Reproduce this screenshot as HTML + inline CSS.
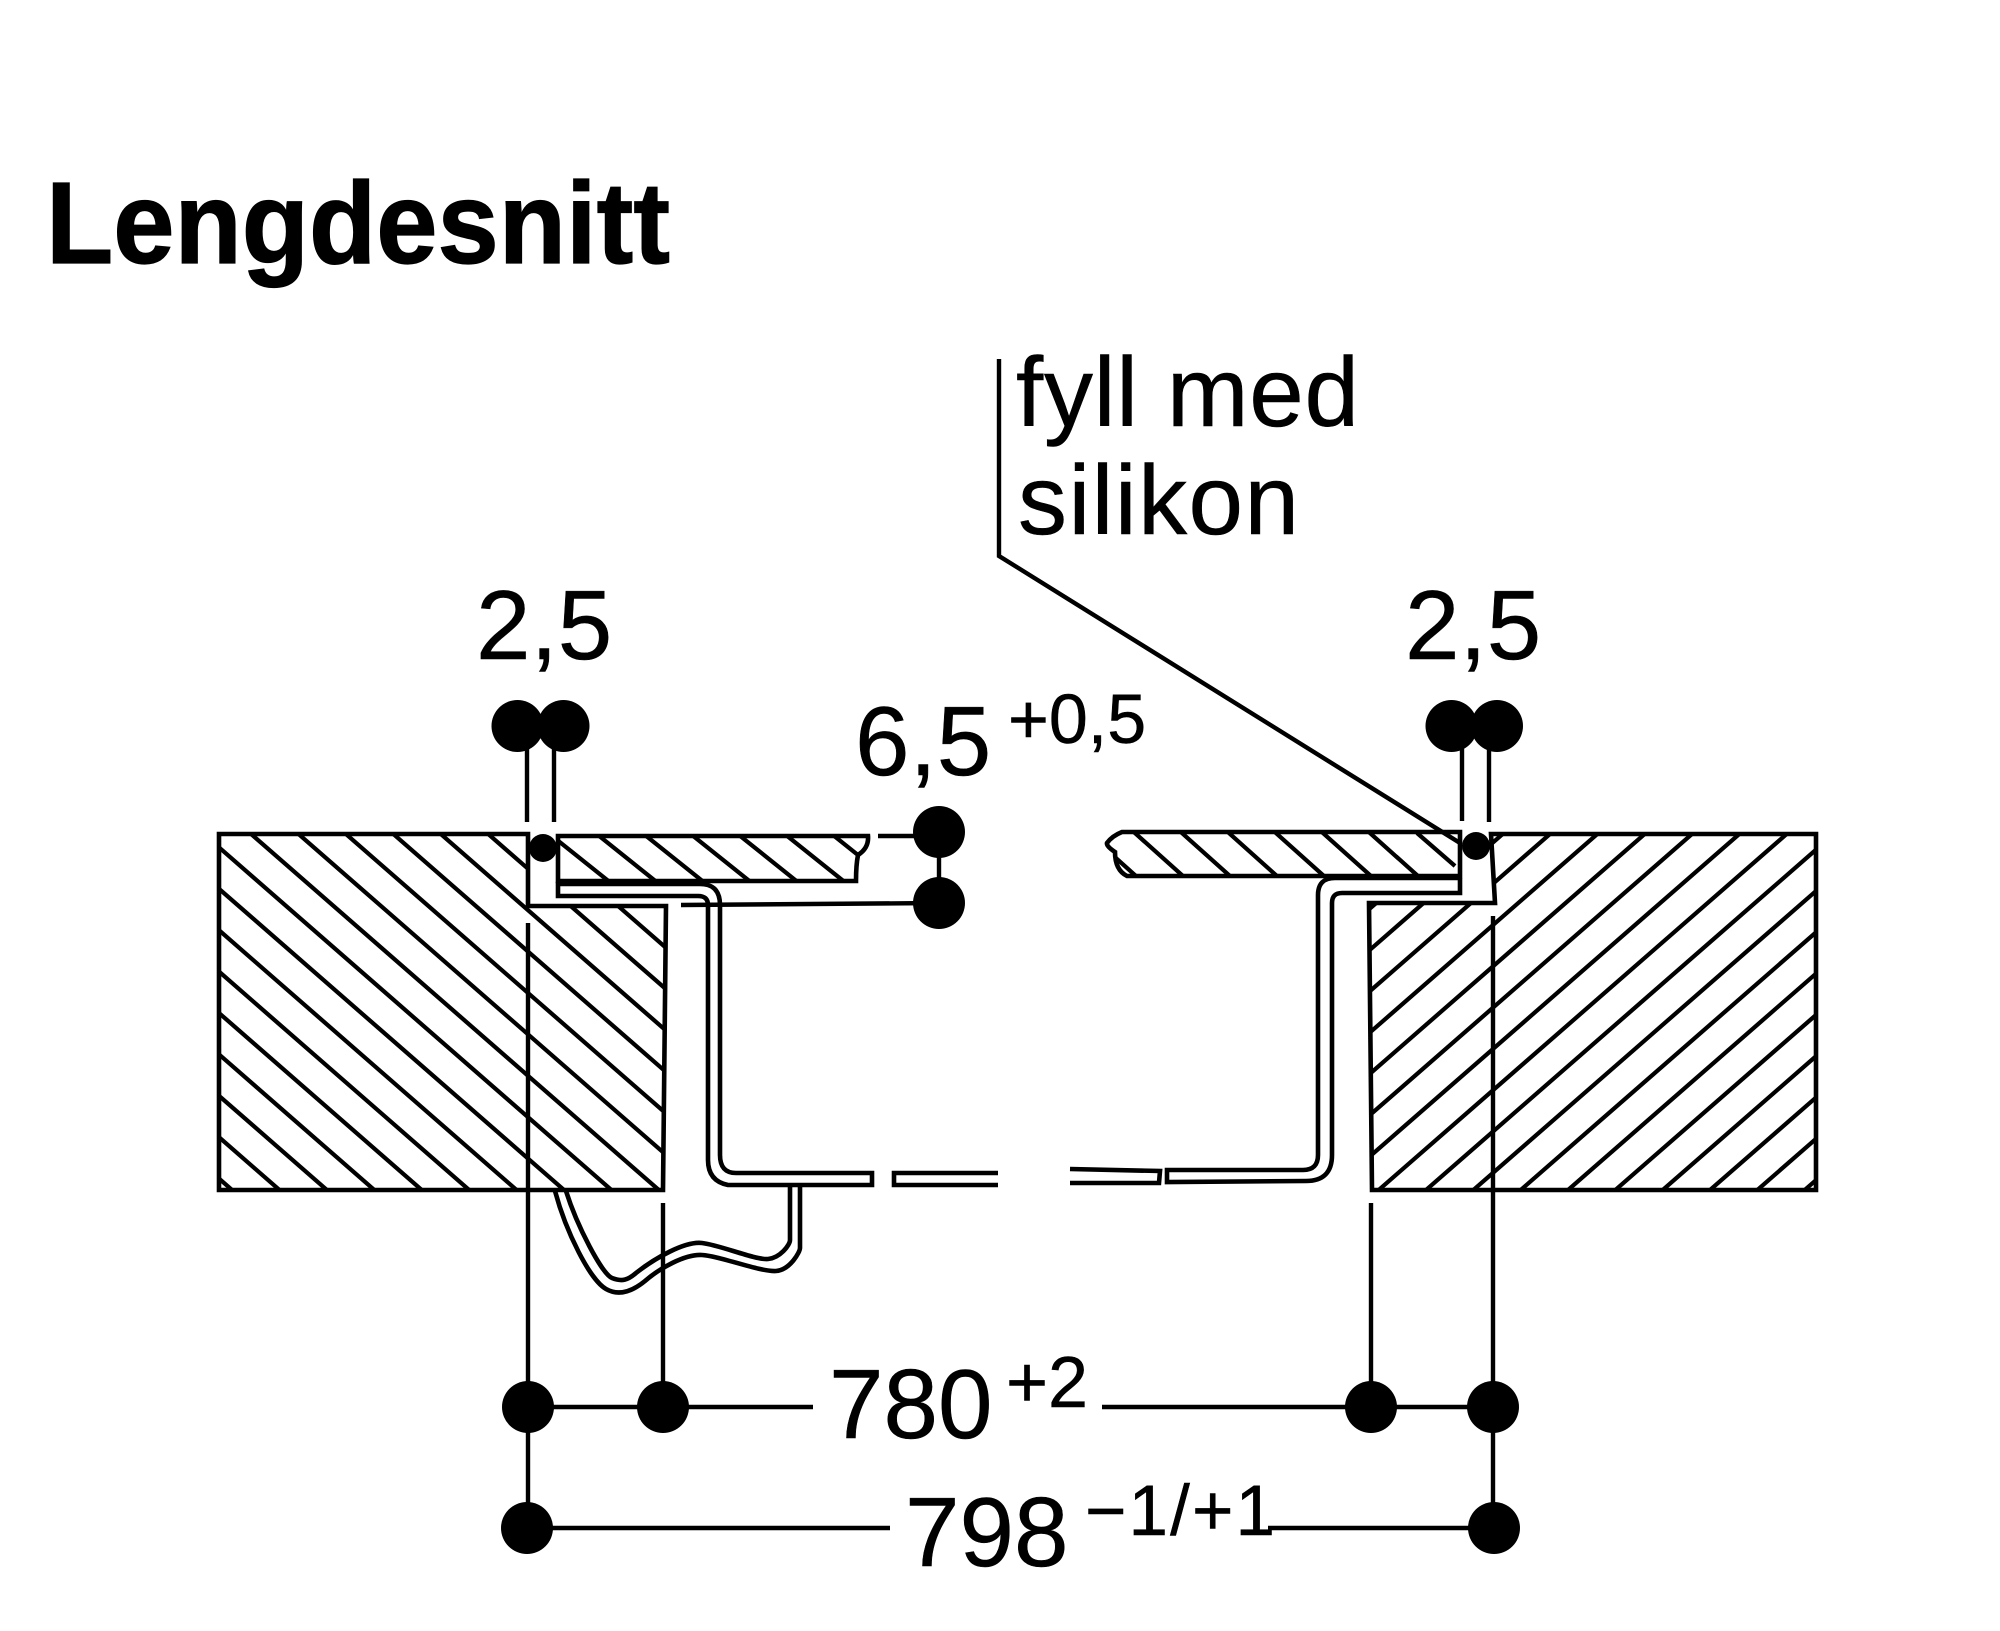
<!DOCTYPE html>
<html lang="no"><head><meta charset="utf-8"><title>Lengdesnitt</title>
<style>html,body{margin:0;padding:0;background:#fff}svg{display:block}text{font-family:"Liberation Sans",Arial,sans-serif;fill:#000;stroke:#000;stroke-width:.5}</style>
</head><body>
<svg xmlns="http://www.w3.org/2000/svg" width="2000" height="1631" viewBox="0 0 2000 1631">
<defs>
<clipPath id="cl"><polygon points="219,834 528,834 528,906 666,906 663,1190 219,1190"/></clipPath>
<clipPath id="cr"><polygon points="1491,834 1816,834 1816,1190 1372,1190 1369,903 1495,903"/></clipPath>
<clipPath id="sl"><path d="M558,836 L868,836 Q869,848 858,855 Q856,865 856,881 L558,881 Z"/></clipPath>
<clipPath id="sr"><path d="M1122,832 L1460,832 L1460,876 L1127,876 Q1115,870 1115,852 Q1106,846 1107,843 Q1112,836 1122,832 Z"/></clipPath>
</defs>
<rect width="2000" height="1631" fill="#fff"/>
<g fill="none" stroke="#000" stroke-width="4.2">
<path clip-path="url(#cl)" d="M200,499.6L700,936.1M200,541L700,977.5M200,582.4L700,1018.9M200,623.8L700,1060.3M200,665.2L700,1101.7M200,706.6L700,1143.1M200,748L700,1184.5M200,789.4L700,1225.9M200,830.8L700,1267.3M200,872.2L700,1308.7M200,913.6L700,1350.1M200,955L700,1391.5M200,996.4L700,1432.9M200,1037.8L700,1474.3M200,1079.2L700,1515.7M200,1120.6L700,1557.1M200,1162L700,1598.5"/>
<path clip-path="url(#cr)" d="M1360,917.2L1830,507.1M1360,958.5L1830,548.4M1360,999.8L1830,589.7M1360,1041.1L1830,631M1360,1082.4L1830,672.3M1360,1123.7L1830,713.6M1360,1165L1830,754.9M1360,1206.3L1830,796.2M1360,1247.6L1830,837.5M1360,1288.9L1830,878.8M1360,1330.2L1830,920.1M1360,1371.5L1830,961.4M1360,1412.8L1830,1002.7M1360,1454.1L1830,1044M1360,1495.4L1830,1085.3M1360,1536.7L1830,1126.6M1360,1578L1830,1167.9"/>
<path clip-path="url(#sl)" d="M544.7,830L619.7,890M591.7,830L666.7,890M638.7,830L713.7,890M685.7,830L760.7,890M732.7,830L807.7,890M779.7,830L854.7,890M826.7,830L901.7,890"/>
<path clip-path="url(#sr)" d="M1079,825L1146,885M1126,825L1193,885M1173,825L1240,885M1220,825L1287,885M1267,825L1334,885M1314,825L1381,885M1361,825L1428,885"/>
<path d="M1417,833L1455,866"/>
</g>
<g fill="none" stroke="#000" stroke-width="4.6" stroke-linejoin="miter">
<polygon points="219,834 528,834 528,906 666,906 663,1190 219,1190"/>
<polygon points="1491,834 1816,834 1816,1190 1372,1190 1369,903 1495,903"/>
<path d="M558,836 L868,836 Q869,848 858,855 Q856,865 856,881 L558,881 Z"/>
<path d="M1122,832 L1460,832 L1460,876 L1127,876 Q1115,870 1115,852 Q1106,846 1107,843 Q1112,836 1122,832 Z"/>
<path d="M558,884 L700,884 Q720,884 720,905 L720,1155 Q720,1173 736,1173 L872,1173 L872,1185 L728,1185 Q708,1181 708,1160 L708,905 Q708,896 698,896 L558,896 Z"/>
<path d="M998,1173 L894,1173 L894,1185 L998,1185"/>
<path d="M1070,1169 L1160,1171 L1159,1183 L1070,1183"/>
<path d="M1460,878 L1335,878 Q1318,878 1318,895 L1318,1155 Q1318,1170 1303,1170 L1167,1170 L1167,1182 L1306,1181 Q1332,1181 1332,1155 L1332,903 Q1332,893 1342,893 L1460,893 L1460,878"/>
<path d="M555,1191 C566,1232 590,1280 606,1289 C620,1297 634,1290 645,1281 C660,1268 685,1254 702,1255 C720,1256 760,1272 776,1271 C790,1270 800,1252 800,1248 L800,1187"/>
<path d="M566,1191 C577,1226 602,1274 612,1278 C622,1282 628,1280 636,1273 C655,1258 685,1241 702,1243 C720,1245 755,1260 768,1259 C780,1258 790,1245 790,1240 L790,1187"/>
</g>
<g fill="none" stroke="#000" stroke-width="4.4">
<path d="M999,359 L999,556 L1460,843"/>
<path d="M527,726V822M554,726V822M1462,726V821M1489,726V822"/>
<path d="M528,923V1528M663,1203V1407M1371,1203V1407M1493,916V1528"/>
<path d="M939,832V903M878,836H939M681,905L939,903"/>
<path d="M528,1407H813M1102,1407H1493M528,1528H890M1268,1528H1494"/>
</g>
<g fill="#000">
<circle cx="517.5" cy="726" r="26"/><circle cx="563.5" cy="726" r="26"/>
<circle cx="1451.5" cy="726" r="26"/><circle cx="1497" cy="726" r="26"/>
<circle cx="939" cy="832" r="26"/><circle cx="939" cy="903" r="26"/>
<circle cx="528" cy="1407" r="26"/><circle cx="663" cy="1407" r="26"/><circle cx="1371" cy="1407" r="26"/><circle cx="1493" cy="1407" r="26"/>
<circle cx="527" cy="1528" r="26"/><circle cx="1494" cy="1528" r="26"/>
<circle cx="543" cy="848" r="14"/><circle cx="1476" cy="846" r="14"/>
</g>
<text x="46" y="263" font-size="116" font-weight="700" textLength="624" lengthAdjust="spacingAndGlyphs" style="stroke-width:1.2">Lengdesnitt</text>
<text x="1016" y="426" font-size="98" textLength="343">fyll med</text>
<text x="1018" y="534" font-size="98" textLength="281">silikon</text>
<text x="476" y="659" font-size="98">2,5</text>
<text x="1405" y="659" font-size="98">2,5</text>
<text x="855" y="775" font-size="98">6,5</text>
<text x="1008" y="743" font-size="70">+0,5</text>
<text x="829" y="1438" font-size="98">780</text>
<text x="1006" y="1407" font-size="72">+2</text>
<text x="905" y="1566" font-size="98">798</text>
<text x="1085" y="1535" font-size="71" textLength="190">−1/+1</text>
</svg>
</body></html>
